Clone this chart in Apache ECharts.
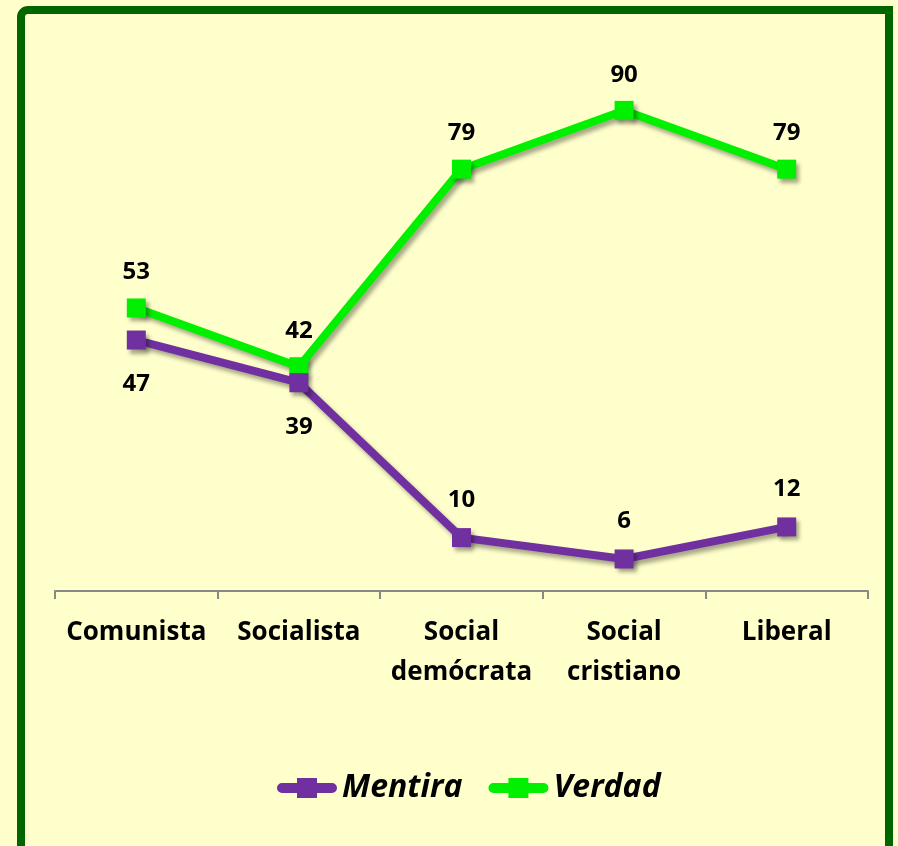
<!DOCTYPE html>
<html>
<head>
<meta charset="utf-8">
<script src="https://cdn.jsdelivr.net/npm/echarts@6/dist/echarts.min.js"></script>
<style>
  html, body { margin: 0; padding: 0; background: #FFFFCC; }
  #chart { width: 898px; height: 846px; }
</style>
</head>
<body>
<div id="chart"></div>
<script>
  // categories and values
  let categories = ['Comunista', 'Socialista', 'Social\ndemócrata', 'Social\ncristiano', 'Liberal']
  let mentira = [47, 39, 10, 6, 12]
  let verdad = [53, 42, 79, 90, 79]
  // labels of the first two Mentira points sit under the marker
  let mentiraBelow = [true, true, false, false, false]

  let myChart = echarts.init(document.getElementById('chart'))

  let mentiraData = []
  for (let i = 0; i < mentira.length; i++) {
    mentiraData.push({
      value: mentira[i],
      label: mentiraBelow[i] ? { position: 'bottom', distance: 23 } : { position: 'top', distance: 16 }
    })
  }

  const shadow = {
    shadowColor: 'rgba(0,0,0,0.35)',
    shadowBlur: 4,
    shadowOffsetX: 3,
    shadowOffsetY: 4
  }
  // legend icon: thick rounded bar with a square in the middle
  const legendIcon = 'path://M5,5 L55,5 A5,5 0 0 1 55,15 L5,15 A5,5 0 0 1 5,5 Z M20,0 L40,0 L40,20 L20,20 Z'

  const option = {
    backgroundColor: '#FFFFCC',
    textStyle: { fontFamily: 'Open Sans' },
    graphic: [
      {
        type: 'rect',
        shape: { x: 21, y: 10, width: 868, height: 860, r: [7, 0, 0, 0] },
        style: { fill: 'none', stroke: '#006600', lineWidth: 8 },
        silent: true
      }
    ],
    grid: {
      left: 55,
      right: 30,
      top: 57,
      bottom: 255
    },
    legend: {
      bottom: 37,
      left: 272,
      itemWidth: 60,
      itemHeight: 20,
      itemGap: 26,
      textStyle: {
        fontSize: 32,
        fontWeight: 'bold',
        fontStyle: 'italic',
        color: '#000',
        fontFamily: 'Open Sans'
      },
      data: [
        { name: 'Mentira', icon: legendIcon },
        { name: 'Verdad', icon: legendIcon }
      ]
    },
    xAxis: {
      type: 'category',
      data: categories,
      boundaryGap: true,
      axisLine: { lineStyle: { color: '#888', width: 2 } },
      axisTick: { show: true, length: 8, lineStyle: { color: '#888', width: 2 } },
      axisLabel: {
        interval: 0,
        margin: 22,
        fontSize: 26,
        fontWeight: 'bold',
        color: '#000',
        lineHeight: 40,
        fontFamily: 'Open Sans'
      }
    },
    yAxis: {
      type: 'value',
      min: 0,
      max: 100,
      show: false,
      splitLine: { show: false }
    },
    series: [
      {
        name: 'Mentira',
        type: 'line',
        data: mentiraData,
        symbol: 'rect',
        symbolSize: 19,
        color: '#7030A0',
        lineStyle: Object.assign({ width: 8, color: '#7030A0' }, shadow),
        itemStyle: Object.assign({ color: '#7030A0' }, shadow),
        label: {
          show: true,
          fontSize: 24,
          fontWeight: 'bold',
          color: '#000',
          fontFamily: 'Open Sans'
        },
        z: 3
      },
      {
        name: 'Verdad',
        type: 'line',
        data: verdad,
        symbol: 'rect',
        symbolSize: 19,
        color: '#00F000',
        lineStyle: Object.assign({ width: 8, color: '#00F000' }, shadow),
        itemStyle: Object.assign({ color: '#00F000' }, shadow),
        label: {
          show: true,
          position: 'top',
          distance: 14,
          fontSize: 24,
          fontWeight: 'bold',
          color: '#000',
          fontFamily: 'Open Sans'
        },
        z: 2
      }
    ]
  }
  myChart.setOption(option)
</script>
</body>
</html>
